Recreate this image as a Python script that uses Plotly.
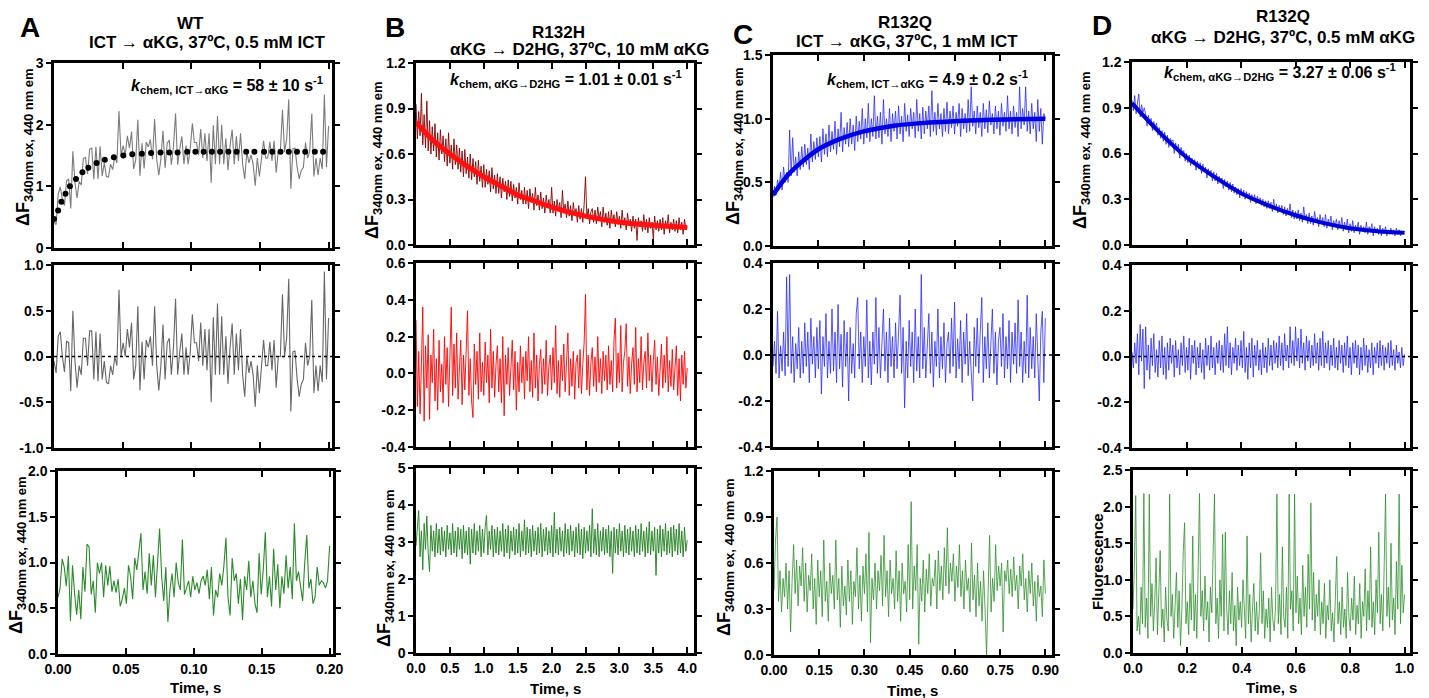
import numpy as np
import plotly.graph_objects as go
from plotly.subplots import make_subplots

W, H = 1429, 698
FONT = "Liberation Sans, Arial, sans-serif"

# ---------------- panel A (WT, ICT -> aKG) ----------------
A_T_END = 0.2
RAW_A = [0.42, 0.38, 0.87, 0.99, 0.79, 0.69, 1.09, 1.12, 0.64, 1.57,
         1.06, 0.81, 1.08, 1.02, 1.45, 1.47, 1.20, 1.60, 1.62, 1.11,
         1.64, 1.12, 1.65, 1.17, 1.38, 1.16, 1.15, 1.36, 1.27, 1.48,
         1.38, 2.22, 1.50, 1.66, 1.51, 1.82, 1.62, 1.89, 1.28, 1.43,
         2.08, 1.17, 1.70, 1.29, 1.72, 1.64, 1.76, 1.44, 2.09, 1.44,
         1.18, 1.45, 1.90, 1.30, 1.70, 1.75, 1.35, 1.65, 2.18, 1.35,
         1.61, 1.81, 1.36, 1.66, 1.36, 1.61, 2.02, 1.71, 1.71, 1.51,
         1.93, 1.46, 1.86, 1.41, 1.86, 1.06, 1.99, 1.36, 2.14, 1.36,
         2.00, 1.36, 1.78, 1.26, 1.66, 1.92, 1.36, 1.81, 1.41, 1.86,
         1.36, 1.12, 1.56, 1.38, 1.51, 1.36, 1.01, 1.46, 1.16, 1.46,
         1.74, 1.46, 1.46, 1.72, 1.41, 1.74, 1.22, 1.56, 1.56, 2.24,
         1.56, 1.76, 2.41, 0.96, 1.61, 1.62, 1.31, 1.12, 1.26, 1.31,
         1.71, 1.46, 1.56, 2.18, 1.16, 1.46, 1.18, 1.46, 1.28, 2.49,
         1.31, 1.98]
FIT_A_T = [0.0, 0.003, 0.0054, 0.0084, 0.0116, 0.016, 0.0207, 0.025, 0.031, 0.037,
           0.0436, 0.0505, 0.057, 0.064, 0.0707, 0.0776, 0.084, 0.090, 0.097, 0.103,
           0.109, 0.115, 0.121, 0.127, 0.133, 0.140, 0.146, 0.153, 0.159, 0.165,
           0.171, 0.177, 0.183, 0.190, 0.196]
FIT_A_Y = [0.47, 0.61, 0.75, 0.88, 1.00, 1.12, 1.23, 1.30, 1.38, 1.43,
           1.47, 1.50, 1.52, 1.53, 1.54, 1.55, 1.55, 1.55, 1.56, 1.56,
           1.56, 1.56, 1.56, 1.56, 1.56, 1.56, 1.56, 1.56, 1.56, 1.56,
           1.56, 1.56, 1.56, 1.56, 1.56]
RES_A = [-0.05, -0.18, 0.22, 0.27, 0.0, -0.17, 0.17, 0.15, -0.38, 0.5,
         -0.05, -0.34, -0.1, -0.2, 0.2, 0.2, -0.1, 0.28, 0.28, -0.25,
         0.27, -0.27, 0.25, -0.25, -0.05, -0.28, -0.3, -0.1, -0.2, 0.0,
         -0.1, 0.73, 0.0, 0.15, 0.0, 0.3, 0.1, 0.37, -0.25, -0.1,
         0.55, -0.37, 0.16, -0.25, 0.18, 0.1, 0.22, -0.1, 0.55, -0.1,
         -0.37, -0.1, 0.35, -0.25, 0.15, 0.2, -0.2, 0.1, 0.63, -0.2,
         0.05, 0.25, -0.2, 0.1, -0.2, 0.05, 0.46, 0.15, 0.15, -0.05,
         0.37, -0.1, 0.3, -0.15, 0.3, -0.5, 0.43, -0.2, 0.58, -0.2,
         0.44, -0.2, 0.22, -0.3, 0.1, 0.36, -0.2, 0.25, -0.15, 0.3,
         -0.2, -0.44, 0.0, -0.18, -0.05, -0.2, -0.55, -0.1, -0.4, -0.1,
         0.18, -0.1, -0.1, 0.16, -0.15, 0.18, -0.34, 0.0, 0.0, 0.68,
         0.0, 0.2, 0.85, -0.6, 0.05, 0.06, -0.25, -0.44, -0.3, -0.25,
         0.15, -0.1, 0.0, 0.62, -0.4, -0.1, -0.38, -0.1, -0.28, 0.93,
         -0.25, 0.42]
GRN_A = [0.62, 0.72, 1.04, 0.95, 0.74, 1.07, 0.36, 0.97, 0.66, 0.43,
         0.70, 0.38, 0.95, 0.68, 1.20, 1.17, 0.65, 0.80, 0.45, 1.00,
         0.88, 1.00, 0.62, 0.97, 0.75, 0.96, 0.68, 0.80, 0.67, 0.82,
         0.52, 0.60, 0.72, 0.55, 0.97, 0.85, 0.60, 1.05, 0.92, 1.15,
         1.32, 0.70, 0.90, 0.66, 1.10, 0.75, 1.08, 0.62, 0.95, 1.37,
         0.85, 0.58, 0.95, 0.35, 0.70, 0.88, 0.62, 1.00, 0.78, 0.70,
         1.25, 0.65, 0.72, 0.80, 0.62, 0.85, 0.70, 0.78, 0.66, 0.80,
         0.85, 0.75, 0.92, 0.60, 0.95, 0.42, 0.70, 0.62, 0.88, 0.75,
         0.96, 1.27, 0.62, 0.42, 1.05, 0.80, 0.88, 0.55, 0.82, 0.37,
         0.85, 0.70, 1.02, 0.62, 0.80, 0.55, 0.45, 1.10, 0.65, 0.92,
         1.33, 0.62, 0.85, 0.52, 1.15, 0.70, 0.98, 0.50, 0.85, 0.66,
         1.08, 0.72, 0.95, 0.60, 1.43, 0.80, 0.90, 0.75, 0.58, 1.00,
         1.30, 0.72, 0.82, 0.55, 0.62, 0.95, 0.75, 0.80, 0.78, 0.72,
         0.80, 1.18]

# ---------------- panel B (R132H, aKG -> D2HG) ----------------
B_T_END = 4.0
RAW_B = [0.93, 0.70, 0.88, 0.72, 1.0, 0.66, 0.86, 0.64, 0.95, 0.62,
         0.82, 0.60, 0.78, 0.62, 0.80, 0.58, 0.74, 0.56, 0.76, 0.60,
         0.72, 0.55, 0.70, 0.52, 0.74, 0.54, 0.66, 0.50, 0.70, 0.53,
         0.66, 0.50, 0.64, 0.48, 0.62, 0.45, 0.63, 0.47, 0.58, 0.44,
         0.60, 0.43, 0.57, 0.45, 0.55, 0.40, 0.56, 0.42, 0.52, 0.38,
         0.53, 0.38, 0.50, 0.40, 0.49, 0.35, 0.51, 0.37, 0.46, 0.34,
         0.47, 0.34, 0.45, 0.31, 0.44, 0.35, 0.42, 0.30, 0.43, 0.32,
         0.42, 0.29, 0.40, 0.31, 0.38, 0.27, 0.41, 0.30, 0.36, 0.27,
         0.38, 0.27, 0.36, 0.24, 0.37, 0.28, 0.34, 0.23, 0.38, 0.26,
         0.33, 0.23, 0.35, 0.24, 0.31, 0.21, 0.33, 0.25, 0.30, 0.21,
         0.38, 0.21, 0.29, 0.19, 0.30, 0.23, 0.28, 0.18, 0.36, 0.21,
         0.27, 0.18, 0.29, 0.19, 0.26, 0.16, 0.28, 0.20, 0.24, 0.15,
         0.26, 0.17, 0.24, 0.15, 0.27, 0.45, 0.18, 0.24, 0.14, 0.22,
         0.24, 0.15, 0.23, 0.14, 0.25, 0.17, 0.22, 0.12, 0.25, 0.15,
         0.21, 0.13, 0.22, 0.11, 0.23, 0.15, 0.20, 0.12, 0.22, 0.14,
         0.19, 0.11, 0.23, 0.13, 0.18, 0.10, 0.21, 0.13, 0.17, 0.09,
         0.19, 0.11, 0.17, 0.03, 0.18, 0.12, 0.16, 0.09, 0.20, 0.10,
         0.17, 0.08, 0.18, 0.11, 0.15, 0.04, 0.19, 0.10, 0.16, 0.09,
         0.17, 0.10, 0.18, 0.07, 0.16, 0.11, 0.20, 0.08, 0.15, 0.10,
         0.17, 0.09, 0.16, 0.08, 0.18, 0.10, 0.15, 0.07, 0.17, 0.10, 0.12]
FIT_B_T = [0.0, 0.25, 0.5, 0.75, 1.0, 1.25, 1.5, 1.75, 2.0, 2.5, 3.0, 3.5, 4.0]
FIT_B_Y = [0.81, 0.69, 0.60, 0.52, 0.45, 0.39, 0.33, 0.29, 0.25, 0.19, 0.15, 0.13, 0.115]
RES_B = [0.29, -0.18, 0.12, -0.22, 0.05, 0.36, -0.26, 0.15, -0.08, 0.21,
         -0.25, 0.1, -0.05, 0.24, -0.15, 0.08, -0.2, 0.18, -0.1, 0.05,
         -0.16, 0.2, -0.06, 0.14, -0.18, 0.09, 0.36, -0.12, 0.16, -0.08,
         0.22, -0.14, 0.04, 0.18, -0.17, 0.1, -0.09, 0.2, 0.34, -0.12,
         0.08, -0.15, -0.24, 0.16, -0.06, 0.12, -0.14, 0.22, -0.1, 0.06,
         -0.12, 0.17, -0.05, 0.1, -0.16, 0.24, -0.08, 0.12, -0.13, 0.05,
         0.15, -0.1, 0.08, -0.16, 0.2, -0.23, 0.1, -0.06, 0.14, -0.12,
         0.04, 0.18, -0.09, 0.12, -0.2, 0.06, -0.1, 0.15, -0.05, 0.09,
         -0.14, 0.12, -0.04, 0.2, -0.1, 0.07, -0.13, 0.22, -0.08, 0.1,
         -0.15, 0.05, 0.13, -0.11, 0.08, -0.06, 0.18, -0.12, 0.04, 0.1,
         -0.09, 0.14, -0.05, 0.26, -0.11, 0.07, -0.13, 0.1, -0.04, 0.16,
         -0.1, 0.05, 0.22, -0.12, 0.08, -0.07, 0.12, -0.14, 0.06, 0.1,
         -0.08, 0.13, -0.11, 0.05, 0.17, 0.43, -0.09, 0.1, -0.12, 0.06,
         0.14, -0.07, 0.09, -0.1, 0.2, -0.05, 0.08, -0.11, 0.12, -0.04,
         0.1, -0.09, 0.15, -0.06, 0.07, -0.1, 0.18, 0.3, -0.08, 0.11,
         -0.05, 0.26, -0.1, 0.06, 0.12, 0.27, -0.07, 0.09, -0.11, 0.05,
         0.14, -0.06, 0.25, -0.1, 0.08, -0.05, 0.2, -0.09, 0.06, 0.12,
         -0.08, 0.22, -0.04, 0.1, -0.1, 0.07, 0.18, -0.06, 0.09, -0.12,
         0.05, 0.16, -0.08, 0.1, -0.05, 0.2, -0.1, 0.07, -0.07, 0.13,
         -0.09, 0.05, 0.15, -0.12, 0.08, -0.15, 0.1, -0.06, 0.12, -0.08, 0.03]
GRN_B = [2.9, 3.4, 3.85, 2.6, 3.3, 2.25, 3.5, 2.8, 3.7, 2.7,
         2.2, 3.45, 2.75, 3.3, 2.6, 3.5, 2.7, 3.35, 2.65, 3.4,
         2.75, 3.3, 2.6, 3.45, 2.8, 3.25, 2.65, 3.5, 2.7, 3.3,
         2.6, 3.4, 2.8, 3.35, 2.55, 3.45, 2.7, 3.3, 2.65, 3.4,
         2.4, 3.35, 2.7, 3.5, 2.65, 3.3, 2.75, 3.45, 2.6, 3.35,
         2.7, 3.4, 3.72, 2.65, 3.3, 2.8, 3.45, 2.6, 3.35, 2.7,
         3.4, 2.65, 3.3, 2.75, 3.5, 2.6, 3.35, 2.7, 3.45, 2.55,
         3.3, 2.75, 3.4, 2.65, 3.35, 2.7, 3.5, 2.6, 3.3, 2.75,
         3.6, 2.65, 3.4, 2.7, 3.35, 2.6, 3.45, 2.75, 3.3, 2.65,
         3.4, 2.7, 3.5, 2.6, 3.35, 2.75, 3.4, 2.65, 3.3, 2.7,
         3.45, 2.6, 3.8, 2.7, 3.35, 2.65, 3.4, 2.75, 3.3, 2.6,
         3.5, 2.7, 3.35, 2.65, 3.45, 2.75, 3.3, 2.6, 3.4, 2.7,
         3.5, 2.65, 3.35, 2.55, 3.4, 2.7, 3.3, 2.75, 3.45, 2.6,
         3.9, 2.7, 3.35, 2.65, 3.5, 2.6, 3.3, 2.75, 3.4, 2.65,
         3.35, 2.7, 3.45, 2.6, 3.3, 2.15, 3.4, 2.7, 3.35, 2.65,
         3.5, 2.75, 3.3, 2.6, 3.45, 2.7, 3.35, 2.65, 3.4, 2.75,
         3.3, 2.6, 3.45, 2.7, 3.35, 2.65, 3.5, 2.75, 3.3, 2.6,
         3.4, 2.7, 3.55, 2.65, 3.3, 2.75, 3.4, 2.1, 3.35, 2.7,
         3.45, 2.6, 3.35, 2.75, 3.5, 2.65, 3.3, 2.7, 3.4, 2.6,
         3.45, 2.75, 3.35, 2.65, 3.5, 2.7, 3.3, 2.6, 3.4, 2.75, 3.05]

# ---------------- panel C (R132Q, ICT -> aKG) ----------------
C_T_END = 0.9
RAW_C = [0.38, 0.47, 0.40, 0.52, 0.45, 0.58, 0.44, 0.62, 0.50, 0.58,
         0.50, 0.91, 0.55, 0.85, 0.58, 0.70, 0.55, 0.74, 0.60, 0.78,
         0.62, 0.80, 0.64, 0.77, 0.60, 0.88, 0.66, 0.82, 0.68, 0.85,
         0.70, 0.86, 0.66, 0.92, 0.72, 0.88, 0.70, 0.95, 0.74, 0.90,
         0.76, 0.98, 0.72, 0.92, 0.78, 1.05, 0.74, 0.93, 0.80, 0.97,
         0.78, 1.00, 0.80, 0.95, 0.75, 1.02, 0.82, 0.98, 0.84, 1.08,
         0.80, 1.00, 0.85, 1.12, 0.82, 1.00, 0.86, 1.18, 0.84, 1.02,
         0.85, 1.05, 0.80, 1.15, 0.88, 1.00, 0.86, 1.08, 0.82, 1.04,
         0.90, 1.06, 0.84, 1.10, 0.88, 1.02, 0.82, 1.12, 0.90, 1.03,
         0.86, 1.08, 0.92, 1.05, 0.85, 1.15, 0.90, 1.04, 0.84, 1.09,
         0.88, 1.06, 0.92, 1.10, 0.86, 1.22, 0.90, 1.05, 0.87, 1.12,
         0.92, 1.04, 0.86, 1.08, 0.90, 1.13, 0.88, 1.06, 0.93, 1.10,
         0.88, 1.05, 0.94, 1.12, 0.86, 1.08, 0.92, 1.04, 0.89, 1.15,
         0.90, 1.25, 0.94, 1.06, 0.88, 1.10, 0.93, 1.05, 0.86, 1.12,
         0.92, 1.07, 0.89, 1.14, 0.95, 1.04, 0.88, 1.10, 0.92, 1.06,
         0.87, 1.12, 0.94, 1.05, 0.90, 1.18, 0.92, 1.06, 0.88, 1.10,
         0.93, 1.05, 0.86, 1.25, 0.92, 1.08, 0.95, 1.25, 0.90, 1.06,
         0.88, 1.12, 0.92, 1.05, 0.82, 1.15, 0.90, 1.08, 0.80, 1.04, 1.00]
FIT_C_T = [0.0, 0.05, 0.1, 0.15, 0.2, 0.25, 0.3, 0.35, 0.4, 0.5, 0.6, 0.7, 0.8, 0.9]
FIT_C_Y = [0.40, 0.56, 0.67, 0.76, 0.82, 0.865, 0.90, 0.925, 0.945, 0.967, 0.98, 0.99, 0.995, 1.0]
RES_C = [-0.05, 0.06, -0.08, 0.19, -0.1, 0.04, -0.07, 0.1, -0.09, 0.34,
         -0.05, 0.35, -0.08, 0.08, -0.12, 0.05, -0.06, 0.12, -0.1, 0.06,
         -0.08, 0.14, -0.05, 0.1, -0.12, 0.16, -0.04, 0.08, -0.1, 0.12,
         -0.06, 0.15, -0.17, 0.08, -0.05, 0.18, -0.1, 0.06, -0.08, 0.2,
         -0.07, 0.1, -0.12, 0.22, -0.06, 0.09, -0.14, 0.15, -0.05, 0.1,
         -0.2, 0.12, -0.08, 0.05, -0.1, 0.18, 0.25, -0.06, 0.1, -0.12,
         0.08, -0.05, 0.24, -0.1, 0.06, -0.13, 0.1, -0.04, 0.25, -0.08,
         0.12, -0.1, 0.05, 0.2, -0.07, 0.1, -0.12, 0.16, -0.05, 0.08,
         -0.1, 0.14, -0.06, 0.1, 0.26, -0.08, 0.12, -0.23, 0.06, -0.1,
         0.15, -0.05, 0.1, -0.12, 0.2, -0.07, 0.08, -0.1, 0.35, -0.06,
         0.12, -0.1, 0.05, 0.18, -0.08, 0.1, -0.14, 0.06, -0.05, 0.2,
         -0.1, 0.08, -0.06, 0.14, -0.12, 0.05, 0.1, -0.08, 0.16, -0.05,
         0.23, -0.1, 0.07, -0.06, 0.15, -0.12, 0.1, -0.04, 0.18, -0.09,
         0.06, -0.1, -0.2, 0.12, -0.05, 0.16, -0.08, 0.1, 0.25, -0.12,
         0.08, -0.06, 0.14, -0.1, 0.05, 0.2, -0.08, 0.1, -0.13, 0.06,
         0.12, -0.05, 0.18, -0.1, 0.08, -0.06, 0.15, -0.12, 0.1, -0.04,
         0.14, -0.08, 0.24, -0.05, 0.1, -0.12, 0.06, -0.08, 0.26, -0.1,
         0.12, -0.06, 0.08, -0.1, 0.18, -0.05, -0.2, 0.1, 0.19, -0.12, 0.16]
GRN_C = [0.42, 0.75, 0.9, 0.35, 0.55, 0.28, 0.5, 0.38, 0.6, 0.3,
         0.55, 0.15, 0.48, 0.72, 0.4, 0.62, 0.32, 0.58, 0.45, 0.7,
         0.35, 0.6, 0.28, 0.52, 0.42, 0.66, 0.3, 0.5, 0.2, 0.62,
         0.38, 0.55, 0.25, 0.75, 0.35, 0.48, 0.22, 0.6, 0.4, 0.52,
         0.3, 0.75, 0.36, 0.5, 0.18, 0.58, 0.32, 0.45, 0.26, 0.62,
         0.35, 0.55, 0.2, 0.48, 0.38, 0.7, 0.3, 0.52, 0.22, 0.58,
         0.4, 0.66, 0.28, 0.8, 0.08, 0.5, 0.36, 0.6, 0.3, 0.55,
         0.42, 0.65, 0.32, 0.78, 0.38, 0.55, 0.25, 0.62, 0.4, 0.5,
         0.3, 0.68, 0.35, 0.55, 0.22, 0.6, 0.4, 0.48, 0.28, 0.72,
         0.36, 1.0, 0.3, 0.58, 0.42, 0.72, 0.07, 0.5, 0.35, 0.62,
         0.28, 0.56, 0.4, 0.66, 0.32, 0.5, 0.45, 0.62, 0.3, 0.68,
         0.42, 0.58, 0.36, 0.7, 0.45, 0.83, 0.4, 0.6, 0.48, 0.66,
         0.35, 0.58, 0.44, 0.72, 0.38, 0.55, 0.3, 0.62, 0.42, 0.5,
         0.28, 0.73, 0.36, 0.52, 0.25, 0.6, 0.32, 0.48, 0.22, 0.55,
         0.3, 0.0, 0.4, 0.78, 0.28, 0.5, 0.35, 0.72, 0.42, 0.58,
         0.45, 0.6, 0.15, 0.55, 0.48, 0.62, 0.4, 0.56, 0.38, 0.64,
         0.42, 0.52, 0.3, 0.58, 0.45, 0.66, 0.36, 0.5, 0.28, 0.55,
         0.4, 0.6, 0.32, 0.48, 0.22, 0.52, 0.38, 0.45, 0.25, 0.62, 0.4]

# ---------------- panel D (R132Q, aKG -> D2HG) ----------------
D_T_END = 1.0
RAW_D = [0.95, 0.88, 0.98, 0.86, 0.93, 0.99, 0.84, 0.92, 0.87, 0.90,
         0.86, 0.78, 0.85, 0.80, 0.83, 0.75, 0.81, 0.77, 0.80, 0.72,
         0.77, 0.70, 0.75, 0.68, 0.74, 0.66, 0.72, 0.64, 0.70, 0.68,
         0.69, 0.60, 0.67, 0.62, 0.66, 0.57, 0.64, 0.60, 0.62, 0.55,
         0.60, 0.54, 0.59, 0.52, 0.57, 0.53, 0.56, 0.49, 0.55, 0.50,
         0.54, 0.47, 0.53, 0.48, 0.51, 0.44, 0.50, 0.46, 0.49, 0.42,
         0.48, 0.42, 0.47, 0.40, 0.45, 0.41, 0.44, 0.37, 0.43, 0.38,
         0.42, 0.36, 0.41, 0.35, 0.40, 0.34, 0.38, 0.33, 0.37, 0.31,
         0.37, 0.32, 0.36, 0.30, 0.35, 0.31, 0.34, 0.28, 0.33, 0.29,
         0.33, 0.27, 0.32, 0.28, 0.31, 0.26, 0.30, 0.25, 0.29, 0.24,
         0.29, 0.24, 0.28, 0.22, 0.30, 0.23, 0.27, 0.21, 0.26, 0.22,
         0.26, 0.20, 0.25, 0.19, 0.24, 0.20, 0.27, 0.18, 0.23, 0.17,
         0.22, 0.17, 0.23, 0.16, 0.21, 0.15, 0.25, 0.17, 0.20, 0.14,
         0.21, 0.14, 0.19, 0.13, 0.22, 0.15, 0.18, 0.12, 0.20, 0.14,
         0.18, 0.12, 0.20, 0.11, 0.17, 0.13, 0.19, 0.10, 0.16, 0.12,
         0.17, 0.10, 0.16, 0.11, 0.18, 0.09, 0.15, 0.10, 0.17, 0.08,
         0.14, 0.09, 0.16, 0.08, 0.13, 0.10, 0.15, 0.07, 0.13, 0.09,
         0.12, 0.08, 0.15, 0.07, 0.12, 0.09, 0.14, 0.06, 0.12, 0.08,
         0.11, 0.07, 0.13, 0.06, 0.11, 0.08, 0.12, 0.06, 0.10, 0.07,
         0.11, 0.07, 0.10, 0.06, 0.11, 0.07, 0.10, 0.06, 0.09, 0.08, 0.09]
FIT_D_T = [0.0, 0.1, 0.2, 0.3, 0.4, 0.5, 0.6, 0.7, 0.8, 0.9, 1.0]
FIT_D_Y = [0.93, 0.74, 0.575, 0.45, 0.34, 0.26, 0.195, 0.145, 0.11, 0.09, 0.08]
RES_D = [0.02, -0.05, 0.06, -0.03, 0.1, -0.08, 0.14, -0.02, 0.12, -0.14,
         0.13, -0.06, 0.05, -0.1, 0.08, -0.04, 0.1, -0.07, 0.03, -0.09,
         0.07, -0.05, 0.09, -0.08, 0.04, -0.1, 0.06, -0.06, 0.08, -0.03,
         0.05, -0.09, 0.07, -0.05, 0.03, -0.08, 0.06, -0.04, 0.09, -0.07,
         0.04, -0.06, 0.08, -0.1, 0.05, -0.03, 0.07, -0.08, 0.04, -0.05,
         0.06, -0.07, 0.03, -0.1, 0.08, -0.04, 0.05, -0.06, 0.09, -0.05,
         0.04, -0.08, 0.06, -0.03, 0.07, -0.06, 0.05, -0.07, 0.1, -0.04,
         0.13, -0.05, 0.06, -0.08, 0.04, -0.03, 0.08, -0.06, 0.05, -0.04,
         0.07, -0.05, 0.11, -0.07, 0.04, -0.1, 0.06, -0.05, 0.08, -0.09,
         0.05, -0.04, 0.07, -0.06, 0.03, -0.08, 0.06, -0.05, 0.04, -0.07,
         0.08, -0.04, 0.05, -0.06, 0.07, -0.03, 0.06, -0.05, 0.09, -0.04,
         0.06, -0.06, 0.1, -0.02, 0.05, -0.05, 0.13, -0.03, 0.07, -0.04,
         0.13, -0.02, 0.08, -0.05, 0.12, -0.03, 0.06, -0.06, 0.09, -0.02,
         0.07, -0.05, 0.05, -0.04, 0.1, -0.03, 0.06, -0.06, 0.08, -0.04,
         0.11, -0.05, 0.06, -0.03, 0.07, -0.06, 0.05, -0.04, 0.08, -0.05,
         0.04, -0.06, 0.07, -0.03, 0.05, -0.07, 0.06, -0.04, 0.09, -0.05,
         0.04, -0.08, 0.06, -0.03, 0.07, -0.05, 0.05, -0.08, 0.04, -0.06,
         0.08, -0.04, 0.05, -0.07, 0.03, -0.05, 0.06, -0.08, 0.04, -0.03,
         0.06, -0.05, 0.07, -0.04, 0.05, -0.06, 0.04, -0.03, 0.06, -0.05,
         0.07, -0.04, 0.03, -0.06, 0.05, -0.03, 0.02, -0.05, 0.04, -0.04, 0.01]
GRN_D = [0.6, 1.2, 2.15, 0.3, 0.5, 0.25, 0.9, 0.4, 2.18, 0.35,
         0.75, 0.2, 2.17, 0.5, 0.95, 0.3, 0.7, 1.3, 0.25, 0.8,
         1.4, 0.35, 0.6, 0.15, 0.9, 0.45, 0.3, 2.17, 0.5, 0.8,
         0.2, 0.65, 1.1, 0.35, 0.85, 0.1, 0.6, 1.38, 1.78, 0.4,
         0.7, 0.25, 0.95, 0.45, 1.6, 0.3, 0.8, 0.2, 1.2, 2.18,
         0.5, 0.85, 0.3, 1.05, 0.45, 0.7, 0.15, 0.9, 0.55, 1.3,
         2.17, 0.4, 0.75, 0.2, 1.0, 0.5, 1.62, 0.3, 1.65, 0.6,
         0.25, 0.85, 0.4, 1.1, 0.3, 0.65, 0.1, 0.9, 0.45, 0.7,
         0.35, 1.0, 0.55, 0.2, 1.6, 0.4, 0.8, 0.15, 0.6, 0.95,
         0.3, 0.7, 0.25, 0.55, 1.37, 0.4, 0.85, 0.2, 0.6, 0.35,
         0.75, 0.15, 0.9, 0.45, 0.3, 0.65, 2.17, 0.4, 0.8, 0.25,
         1.45, 0.5, 0.35, 0.9, 0.2, 2.17, 0.6, 0.85, 0.3, 2.17,
         0.55, 1.05, 0.4, 0.75, 0.25, 1.2, 0.5, 0.9, 0.35, 1.35,
         0.6, 2.05, 0.45, 1.1, 0.3, 0.8, 0.5, 1.0, 0.25, 0.7,
         0.4, 0.95, 0.2, 0.65, 0.45, 1.0, 0.3, 0.55, 0.15, 0.85,
         1.32, 0.4, 0.7, 0.25, 0.9, 0.35, 0.6, 0.2, 1.1, 0.5,
         0.3, 0.75, 0.45, 1.05, 0.25, 0.65, 0.4, 0.95, 0.2, 0.7,
         0.5, 1.15, 0.3, 0.85, 0.45, 1.45, 0.35, 0.7, 0.25, 1.0,
         0.55, 1.65, 0.4, 0.8, 0.3, 1.2, 2.17, 0.5, 0.9, 0.35,
         1.5, 0.45, 0.75, 0.25, 1.25, 0.6, 2.17, 0.4, 1.2, 0.55, 0.8]

# ---------------- text and ticks ----------------
LETTERS = ["A", "B", "C", "D"]
TITLE_1 = ["WT", "R132H", "R132Q", "R132Q"]
TITLE_2 = ["ICT → αKG, 37ºC, 0.5 mM ICT", "αKG → D2HG, 37ºC, 10 mM αKG",
           "ICT → αKG, 37ºC, 1 mM ICT", "αKG → D2HG, 37ºC, 0.5 mM αKG"]
K_SUB = ["chem, ICT→αKG", "chem, αKG→D2HG", "chem, ICT→αKG", "chem, αKG→D2HG"]
K_VAL = ["58 ± 10", "1.01 ± 0.01", "4.9 ± 0.2", "3.27 ± 0.06"]

X_TICKS = [[0, 0.05, 0.10, 0.15, 0.20],
           [0, 0.5, 1.0, 1.5, 2.0, 2.5, 3.0, 3.5, 4.0],
           [0, 0.15, 0.30, 0.45, 0.60, 0.75, 0.90],
           [0, 0.2, 0.4, 0.6, 0.8, 1.0]]
X_LABELS = [["0.00", "0.05", "0.10", "0.15", "0.20"],
            ["0.0", "0.5", "1.0", "1.5", "2.0", "2.5", "3.0", "3.5", "4.0"],
            ["0.00", "0.15", "0.30", "0.45", "0.60", "0.75", "0.90"],
            ["0.0", "0.2", "0.4", "0.6", "0.8", "1.0"]]
X_RANGES = [[0, 0.2025], [0, 4.1], [0, 0.922], [0, 1.02]]

Y_TICKS = [
    [[0, 1, 2, 3], [-1, -0.5, 0, 0.5, 1], [0, 0.5, 1, 1.5, 2]],
    [[0, 0.3, 0.6, 0.9, 1.2], [-0.4, -0.2, 0, 0.2, 0.4, 0.6], [0, 1, 2, 3, 4, 5]],
    [[0, 0.5, 1.0, 1.5], [-0.4, -0.2, 0, 0.2, 0.4], [0, 0.3, 0.6, 0.9, 1.2]],
    [[0, 0.3, 0.6, 0.9, 1.2], [-0.4, -0.2, 0, 0.2, 0.4], [0, 0.5, 1, 1.5, 2, 2.5]],
]
Y_LABELS = [
    [["0", "1", "2", "3"], ["-1.0", "-0.5", "0.0", "0.5", "1.0"], ["0.0", "0.5", "1.0", "1.5", "2.0"]],
    [["0.0", "0.3", "0.6", "0.9", "1.2"], ["-0.4", "-0.2", "0.0", "0.2", "0.4", "0.6"], ["0", "1", "2", "3", "4", "5"]],
    [["0.0", "0.5", "1.0", "1.5"], ["-0.4", "-0.2", "0.0", "0.2", "0.4"], ["0.0", "0.3", "0.6", "0.9", "1.2"]],
    [["0.0", "0.3", "0.6", "0.9", "1.2"], ["-0.4", "-0.2", "0.0", "0.2", "0.4"], ["0.0", "0.5", "1.0", "1.5", "2.0", "2.5"]],
]

# pixel boxes of each panel: (left, right) per row and (top, bottom) per row
COL_X = [[(54, 332), (54, 332), (58, 333)],
         [(416, 694), (416, 694), (416, 694)],
         [(773, 1052), (773, 1052), (774, 1052)],
         [(1132, 1410), (1132, 1410), (1133, 1410)]]
ROW_Y = [[(63, 248), (265, 448), (471, 654)],
         [(63, 245), (263, 447), (468, 653)],
         [(55, 246), (263, 447), (471, 655)],
         [(62, 245), (265, 448), (470, 653)]]

fig = make_subplots(rows=3, cols=4)


def tgrid(vals, t_end):
    return np.linspace(0, t_end, len(vals))


def line(x, y, color, width, row, col, shape="linear"):
    fig.add_trace(go.Scatter(x=x, y=y, mode="lines", line=dict(color=color, width=width, shape=shape),
                             showlegend=False, hoverinfo="skip"), row=row, col=col)


# column A
line(tgrid(RAW_A, A_T_END), RAW_A, "#7c7c7c", 1.1, 1, 1)
fig.add_trace(go.Scatter(x=FIT_A_T, y=FIT_A_Y, mode="markers", marker=dict(color="black", size=6),
                         showlegend=False), row=1, col=1)
line(tgrid(RES_A, A_T_END), RES_A, "#666666", 1.1, 2, 1)
line(tgrid(GRN_A, A_T_END), GRN_A, "#2b8a2b", 1.1, 3, 1)

# column B
line(tgrid(RAW_B, B_T_END), RAW_B, "#8a0000", 0.9, 1, 2)
line(FIT_B_T, FIT_B_Y, "#ff1010", 5, 1, 2, "spline")
line(tgrid(RES_B, B_T_END), RES_B, "#ff0000", 0.9, 2, 2)
line(tgrid(GRN_B, B_T_END), GRN_B, "#1f7f1f", 0.9, 3, 2)

# column C
line(tgrid(RAW_C, C_T_END), RAW_C, "#2a2aff", 0.8, 1, 3)
line(FIT_C_T, FIT_C_Y, "#0000e0", 4.5, 1, 3, "spline")
line(tgrid(RES_C, C_T_END), RES_C, "#2a2aff", 0.8, 2, 3)
line(tgrid(GRN_C, C_T_END), GRN_C, "#2e8f2e", 0.8, 3, 3)

# column D
line(tgrid(RAW_D, D_T_END), RAW_D, "#2a2aff", 0.8, 1, 4)
line(FIT_D_T, FIT_D_Y, "#0000d0", 4, 1, 4, "spline")
line(tgrid(RES_D, D_T_END), RES_D, "#2a2aff", 0.8, 2, 4)
line(tgrid(GRN_D, D_T_END), GRN_D, "#2e8f2e", 0.8, 3, 4)

tick_font = dict(family=FONT, size=14, color="black", weight="bold")
for c in range(4):
    for r in range(3):
        x0, x1 = COL_X[c][r]
        y0, y1 = ROW_Y[c][r]
        yt = Y_TICKS[c][r]
        fig.update_xaxes(domain=[x0 / W, x1 / W], range=X_RANGES[c], tickvals=X_TICKS[c],
                         ticktext=X_LABELS[c], showticklabels=(r == 2), ticks="inside",
                         ticklen=6, tickwidth=2, tickcolor="black", showline=True,
                         linecolor="black", linewidth=2.5, mirror="ticks", showgrid=False,
                         zeroline=False, tickfont=tick_font, automargin=False,
                         row=r + 1, col=c + 1)
        fig.update_yaxes(domain=[1 - y1 / H, 1 - y0 / H], range=[yt[0], yt[-1]], tickvals=yt,
                         ticktext=Y_LABELS[c][r], ticks="outside", ticklen=5, tickwidth=2,
                         tickcolor="black", showline=True, linecolor="black", linewidth=2.5,
                         mirror="ticks", showgrid=False, zeroline=False, tickfont=tick_font,
                         automargin=False, row=r + 1, col=c + 1)

# dotted zero lines on residual panels
for c in (1, 3, 4):
    fig.add_hline(y=0, line=dict(color="black", width=1.3, dash="dot"), row=2, col=c)


def text(s, x, y, size, xanchor="center", angle=0):
    fig.add_annotation(text=s, x=x / W, y=1 - y / H, xref="paper", yref="paper", showarrow=False,
                       xanchor=xanchor, yanchor="middle", textangle=angle,
                       font=dict(family=FONT, size=size, color="black"))


LETTER_POS = [(30, 27), (395, 27), (743, 34), (1102, 25)]
T1_POS = [(190, 23), (558, 32), (905, 22), (1283, 17)]
T2_POS = [(207, 43), (580, 50), (907, 42), (1283, 37)]
K_POS = [(325, 85), (684, 79), (1030, 79), (1398, 72)]
for c in range(4):
    text("<b>%s</b>" % LETTERS[c], *LETTER_POS[c], 28)
    text("<b>%s</b>" % TITLE_1[c], *T1_POS[c], 17)
    text("<b>%s</b>" % TITLE_2[c], *T2_POS[c], 17)
    text("<b><i>k</i><sub>%s</sub> = %s s<sup>-1</sup></b>" % (K_SUB[c], K_VAL[c]),
         K_POS[c][0], K_POS[c][1], 16, xanchor="right")

YLAB = "<b>ΔF<sub><span style='font-size:13px'>340nm ex, 440 nm em</span></sub></b>"
for (x, y) in [(24, 147), (373, 160), (734, 146), (1081, 150),
               (17, 555), (385, 568), (725, 557)]:
    text(YLAB, x, y, 18, angle=-90)
text("<b>Fluorescence</b>", 1097, 562, 15, angle=-90)

XLAB_POS = [(195, 687), (555, 688), (912, 690), (1271, 687)]
for (x, y) in XLAB_POS:
    text("<b>Time, s</b>", x, y, 15)

fig.update_layout(width=W, height=H, margin=dict(l=0, r=0, t=0, b=0),
                  plot_bgcolor="white", paper_bgcolor="white", showlegend=False)
fig.write_html("out.html", config={"displayModeBar": False},
               post_script="document.body.style.margin='0px';")
